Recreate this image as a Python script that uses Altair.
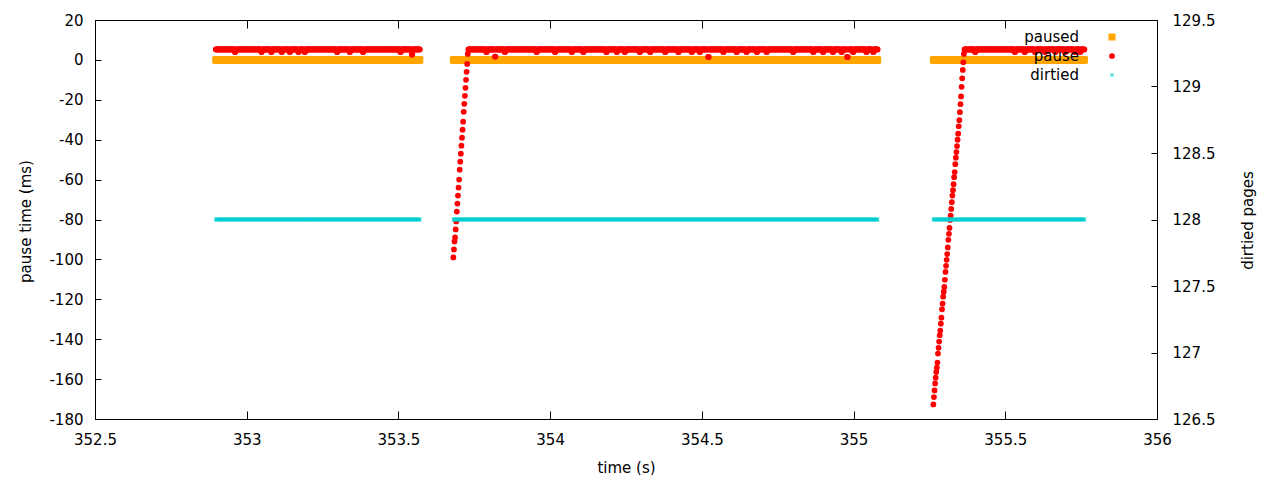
import altair as alt
import numpy as np
import pandas as pd

# ---------------- data ----------------
series_names = ["paused", "pause", "dirtied"]
series_colors = ["#ffa500", "#ff0000", "#00ced1"]

# three sampling runs (time in s) and sampling interval
seg_start = [352.898, 353.681, 355.263]
seg_end = [353.572, 355.080, 355.762]
sample_step = 0.0019

paused_value = 0.0      # ms (left axis)
dirtied_value = 128.0   # pages (right axis)
pause_flat = 5.25       # ms, usual level of "pause"

# "pause" ramps at the start of the 2nd and 3rd runs (ms)
ramp_1 = [-99, -95, -91, -89, -85, -81, -76, -72, -68, -64, -60, -55, -51,
          -47, -43, -39, -35, -31, -26, -22, -18, -14, -10, -6, -2, 3]
ramp_2 = [-172.7, -169, -165.7, -162.2, -159.3, -156.5, -154.3, -151.7,
          -147.2, -144.3, -141.2, -138, -135.7, -132.2, -129.2, -125, -122.2,
          -118.7, -116.2, -113.8, -110.2, -106.3, -103.2, -100.2, -97.3, -94,
          -90.2, -87.2, -84.2, -80.2, -78, -74.7, -71.3, -68, -65.3, -62.3,
          -58.8, -56.2, -52.3, -49, -46.2, -43.2, -40, -37, -33.3, -30.2,
          -26.2, -22.2, -18.3, -13.5, -9.2, -5, -1.2, 3]
ramps = [[], ramp_1, ramp_2]

# small dips of the "pause" series below its usual level
dip_t = [352.961, 353.049, 353.082, 353.115, 353.143, 353.170, 353.192,
         353.297, 353.340, 353.384, 353.506, 353.544, 353.791, 353.818,
         353.851, 353.956, 354.016, 354.071, 354.109, 354.186, 354.219,
         354.247, 354.296, 354.329, 354.379, 354.422, 354.467, 354.494,
         354.521, 354.571, 354.615, 354.648, 354.681, 354.714, 354.801,
         354.867, 354.900, 354.933, 354.961, 354.980, 354.999, 355.043,
         355.065, 355.400, 355.532, 355.565, 355.598, 355.631, 355.664,
         355.697, 355.730, 355.746]
dip_v = [4.0, 4.0, 4.0, 4.0, 4.0, 4.0, 4.0,
         4.0, 4.0, 4.0, 4.0, 2.7, 4.0, 1.7,
         4.0, 4.0, 4.0, 4.0, 4.0, 4.0, 4.0,
         4.0, 4.0, 4.0, 4.0, 4.0, 4.0, 4.0,
         1.5, 4.0, 4.0, 4.0, 4.0, 4.0, 4.0,
         4.0, 4.0, 4.0, 4.0, 1.5, 4.0, 4.0,
         4.0, 4.0, 4.0, 4.0, 4.0, 4.0, 4.0,
         4.0, 4.0, 4.0]

x_ticks = [352.5, 353, 353.5, 354, 354.5, 355, 355.5, 356]
y_ticks = [20, 0, -20, -40, -60, -80, -100, -120, -140, -160, -180]
y2_ticks = [126.5, 127, 127.5, 128, 128.5, 129, 129.5]

# ---------------- build tables ----------------
t_parts, p_parts = [], []
for s, e, ramp in zip(seg_start, seg_end, ramps):
    t = np.arange(s, e + 1e-9, sample_step)
    v = np.full(len(t), pause_flat)
    v[:len(ramp)] = ramp
    t_parts.append(t)
    p_parts.append(v)
t_all = np.concatenate(t_parts)
p_all = np.concatenate(p_parts)
for dt, dv in zip(dip_t, dip_v):
    idx = np.argsort(np.abs(t_all - dt))[:2]
    p_all[idx] = dv

df_left = pd.concat([
    pd.DataFrame({"t": t_all, "v": paused_value, "series": "paused"}),
    pd.DataFrame({"t": t_all, "v": p_all, "series": "pause"}),
], ignore_index=True)
df_right = pd.DataFrame({"t": t_all, "v": dirtied_value, "series": "dirtied"})
frame = pd.DataFrame({"t": [x_ticks[0], x_ticks[-1]],
                      "v": [y_ticks[-1], y_ticks[0]],
                      "d": [y2_ticks[0], y2_ticks[-1]]})
legend_df = pd.DataFrame({"series": series_names})

# ---------------- chart ----------------
FONT = "DejaVu Sans"
FS = 15
W, H = 1062, 399
x_path = ("M-1,-0.7L-0.7,-1L0,-0.3L0.7,-1L1,-0.7L0.3,0L1,0.7L0.7,1"
          "L0,0.3L-0.7,1L-1,0.7L-0.3,0Z")

xscale = alt.Scale(domain=[x_ticks[0], x_ticks[-1]], nice=False, zero=False)
yscale = alt.Scale(domain=[y_ticks[-1], y_ticks[0]], nice=False, zero=False)
y2scale = alt.Scale(domain=[y2_ticks[0], y2_ticks[-1]], nice=False, zero=False)
lab = "'' + datum.value"

color = alt.Color("series:N", scale=alt.Scale(domain=series_names, range=series_colors), legend=None)
shape = alt.Shape("series:N", scale=alt.Scale(domain=series_names, range=["square", "circle", x_path]), legend=None)
size = alt.Size("series:N", scale=alt.Scale(domain=series_names, range=[49, 17, 22]), legend=None)

l1 = alt.Chart(df_left).mark_point(filled=True, opacity=1).encode(
    x=alt.X("t:Q", scale=xscale, axis=alt.Axis(
        orient="bottom", values=x_ticks, ticks=False, tickSize=0, labelPadding=13,
        labelExpr=lab, labelFlush=False, labelOverlap=False,
        title="time (s)", titleX=W / 2, titleY=48, titleBaseline="middle", titleAlign="center")),
    y=alt.Y("v:Q", scale=yscale, axis=alt.Axis(
        orient="left", values=y_ticks, ticks=False, tickSize=0, labelPadding=12,
        labelExpr=lab, labelOverlap=False, labelFlush=False,
        title="pause time (ms)", titleX=-70, titleY=201, titleAngle=-90,
        titleBaseline="middle", titleAlign="center")),
    color=color, shape=shape, size=size,
)

l2 = alt.Chart(df_right).mark_point(filled=True, opacity=1).encode(
    x=alt.X("t:Q", scale=xscale, axis=alt.Axis(
        orient="bottom", offset=-8, tickSize=8, labels=False, title=None, values=x_ticks)),
    y=alt.Y("v:Q", scale=y2scale, axis=alt.Axis(
        orient="right", values=y2_ticks, ticks=False, tickSize=0, labelPadding=15,
        labelExpr=lab, labelOverlap=False, labelFlush=False,
        title="dirtied pages", titleX=90, titleY=200, titleAngle=-90,
        titleBaseline="middle", titleAlign="center")),
    color=color, shape=shape, size=size,
)

l3 = alt.Chart(frame).mark_point(opacity=0).encode(
    x=alt.X("t:Q", scale=xscale, axis=alt.Axis(
        orient="top", offset=-8, tickSize=8, labels=False, title=None, values=x_ticks)),
    y=alt.Y("v:Q", scale=yscale, axis=alt.Axis(
        orient="left", offset=-6, tickSize=6, labels=False, title=None, values=y_ticks)),
)

l4 = alt.Chart(frame).mark_point(opacity=0).encode(
    x=alt.X("t:Q", scale=xscale, axis=None),
    y=alt.Y("d:Q", scale=y2scale, axis=alt.Axis(
        orient="right", offset=-6, tickSize=6, labels=False, title=None, values=y2_ticks)),
)

# gnuplot-style key: labels right-aligned, symbols to their right
key_y = alt.Y("series:N", scale=alt.Scale(type="point", domain=series_names, range=[17, 55], padding=0), axis=None)
key_text = alt.Chart(legend_df).mark_text(
    align="right", baseline="middle", font=FONT, fontSize=FS, color="black"
).encode(text="series:N", x=alt.value(984), y=key_y)
key_sym = alt.Chart(legend_df).mark_point(filled=True, opacity=1).encode(
    x=alt.value(1017), y=key_y, color=color, shape=shape, size=size)

chart = alt.layer(l1, l2, l3, l4, key_text, key_sym).resolve_scale(
    y="independent"
).resolve_axis(
    x="independent", y="independent"
).properties(
    width=W, height=H,
    padding={"left": 87, "top": 12, "right": 108, "bottom": 56},
    autosize=alt.AutoSizeParams(type="none"),
    background="white",
).configure_view(
    stroke="black", strokeWidth=1
).configure_axis(
    grid=False, domain=False,
    labelFont=FONT, labelFontSize=FS, labelColor="black",
    titleFont=FONT, titleFontSize=FS, titleColor="black", titleFontWeight="normal",
    tickColor="black", tickWidth=1,
)

chart.save("out.html", embed_options={"renderer": "svg", "actions": False})
